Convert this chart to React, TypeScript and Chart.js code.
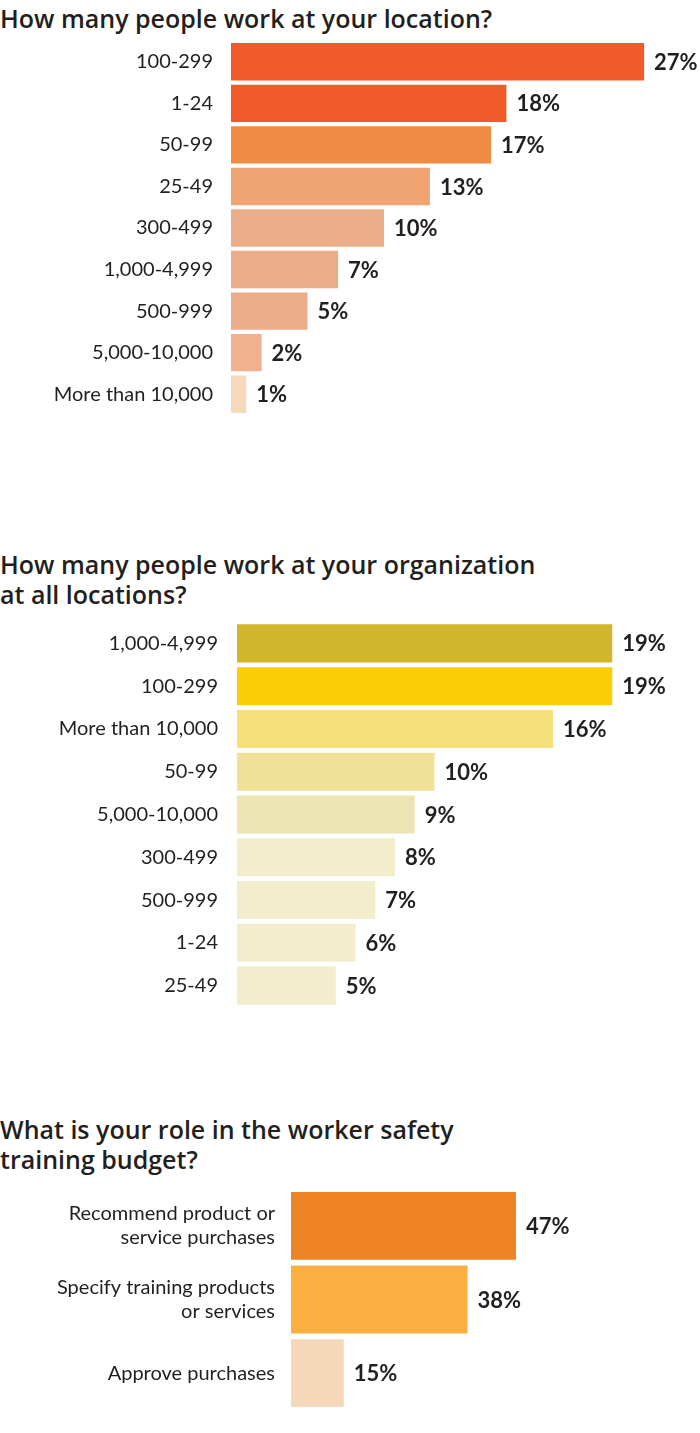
import React, { useEffect, useRef } from "react";
import { Chart, registerables } from "chart.js";
Chart.register(...registerables);

const locationLabels = ["100-299", "1-24", "50-99", "25-49", "300-499", "1,000-4,999", "500-999", "5,000-10,000", "More than 10,000"];
const locationValues = [27, 18, 17, 13, 10, 7, 5, 2, 1];
const locationColors = ["#F15A2B", "#F15A2B", "#EF8B42", "#F0A471", "#EBAC89", "#EBAC89", "#EBAC89", "#F0B18E", "#F5D9BB"];

const orgLabels = ["1,000-4,999", "100-299", "More than 10,000", "50-99", "5,000-10,000", "300-499", "500-999", "1-24", "25-49"];
const orgValues = [19, 19, 16, 10, 9, 8, 7, 6, 5];
const orgColors = ["#D1B52C", "#FDCD08", "#F5E07B", "#F1E196", "#ECE4B2", "#F3ECCD", "#F3ECCD", "#F3ECCD", "#F3ECCD"];

const roleLabels = [["Recommend product or", "service purchases"], ["Specify training products", "or services"], ["Approve purchases"]];
const roleValues = [47, 38, 15];
const roleColors = ["#EE8424", "#FBAF41", "#F5D8B9"];

const TEXT = "#231F20";
const LABEL_FONT = "Lato";

type BarProps = {
  labels: any[];
  values: number[];
  colors: string[];
  top: number;
  height: number;
  axisWidth: number;
  labelPad: number;
  xMin: number;
  xMax: number;
  padRight: number;
  barPct: number;
};

function BarChart(p: BarProps) {
  const ref = useRef<HTMLCanvasElement>(null);
  useEffect(() => {
    if (!ref.current) return;
    const valueLabels = {
      id: "valueLabels",
      afterDatasetsDraw(chart: any) {
        const ctx = chart.ctx;
        const meta = chart.getDatasetMeta(0);
        ctx.save();
        ctx.font = "bold 22px Lato";
        ctx.fillStyle = TEXT;
        ctx.textAlign = "left";
        ctx.textBaseline = "middle";
        meta.data.forEach((bar: any, i: number) => {
          ctx.fillText(p.values[i] + "%", bar.x + 10, bar.y + 1);
        });
        ctx.restore();
      },
    };
    const chart = new Chart(ref.current, {
      type: "bar",
      data: {
        labels: p.labels,
        datasets: [
          {
            data: p.values,
            backgroundColor: p.colors,
            borderWidth: 0,
            barPercentage: p.barPct,
            categoryPercentage: 1,
          },
        ],
      },
      options: {
        indexAxis: "y",
        responsive: false,
        animation: false,
        layout: { padding: { left: 0, right: p.padRight, top: 0, bottom: 0 } },
        plugins: { legend: { display: false }, tooltip: { enabled: false }, title: { display: false } },
        scales: {
          x: {
            display: false,
            min: p.xMin,
            max: p.xMax,
          },
          y: {
            afterFit: (scale: any) => {
              scale.width = p.axisWidth;
              scale.paddingTop = 0;
              scale.paddingBottom = 0;
            },
            grid: { display: false, drawTicks: false },
            border: { display: false },
            ticks: {
              padding: p.labelPad,
              color: TEXT,
              font: { family: LABEL_FONT, size: 20, weight: "400", lineHeight: 1.2 },
              autoSkip: false,
            },
          },
        },
      },
      plugins: [valueLabels],
    } as any);
    return () => chart.destroy();
  }, []);
  return (
    <canvas
      ref={ref}
      width={700}
      height={p.height}
      style={{ position: "absolute", left: 0, top: p.top, width: 700, height: p.height }}
    />
  );
}

const titleStyle = (top: number): React.CSSProperties => ({
  position: "absolute",
  left: 0,
  top,
  margin: 0,
  fontFamily: "'Open Sans', sans-serif",
  fontWeight: 600,
  fontSize: 25,
  lineHeight: "30px",
  color: TEXT,
  whiteSpace: "nowrap",
});

export default function App() {
  useEffect(() => {
    document.body.style.margin = "0";
  }, []);
  return (
    <div style={{ position: "absolute", left: 0, top: 0, width: 700, height: 1433, background: "#fff" }}>
      <div style={titleStyle(3)}>How many people work at your location?</div>
      <BarChart
        labels={locationLabels}
        values={locationValues}
        colors={locationColors}
        top={41}
        height={374}
        axisWidth={231}
        labelPad={18}
        xMin={0}
        xMax={30}
        padRight={10}
        barPct={0.9}
      />
      <div style={titleStyle(549)}>
        How many people work at your organization
        <br />
        at all locations?
      </div>
      <BarChart
        labels={orgLabels}
        values={orgValues}
        colors={orgColors}
        top={622}
        height={385}
        axisWidth={237}
        labelPad={19}
        xMin={0}
        xMax={22}
        padRight={28.5}
        barPct={0.89}
      />
      <div style={titleStyle(1114)}>
        What is your role in the worker safety
        <br />
        training budget?
      </div>
      <BarChart
        labels={roleLabels}
        values={roleValues}
        colors={roleColors}
        top={1189}
        height={221}
        axisWidth={291}
        labelPad={16}
        xMin={5.2}
        xMax={60}
        padRight={114}
        barPct={0.92}
      />
    </div>
  );
}
